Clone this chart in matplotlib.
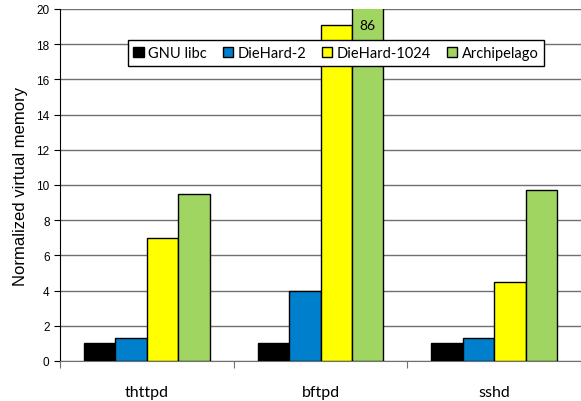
import numpy as np
import matplotlib.pyplot as plt

# data
apps = ["thttpd", "bftpd", "sshd"]
series = ["GNU libc", "DieHard-2", "DieHard-1024", "Archipelago"]
gnu_libc = [1.0, 1.0, 1.0]
diehard_2 = [1.3, 4.0, 1.3]
diehard_1024 = [7.0, 19.1, 4.5]
archipelago = [9.5, 86.0, 9.7]
colors = ["#000000", "#0080cc", "#ffff00", "#a0d562"]

values = [gnu_libc, diehard_2, diehard_1024, archipelago]

fig = plt.figure(figsize=(5.81, 4.02), dpi=100)
ax = fig.add_axes([60 / 581, 40 / 402, 521 / 581, 352 / 402])

x = np.arange(len(apps))
w = 0.181
for i, (name, vals) in enumerate(zip(series, values)):
    pos = x + (i - 1.5) * w
    ax.bar(pos, vals, width=w, color=colors[i], edgecolor="black",
           linewidth=1.0, label=name, zorder=3)

# clipped bar label
ax.text(x[1] + 1.5 * w, 19.1, "86", ha="center", va="center",
        fontsize=10, family="Lato", zorder=4)

ax.set_ylim(0, 20)
ax.set_xlim(-0.5, 2.5)
ax.set_yticks(np.arange(0, 21, 2))
ax.tick_params(axis="y", labelsize=8.5, length=4, direction="out")
for lab in ax.get_yticklabels():
    lab.set_family("Liberation Sans")
ax.yaxis.grid(True, color="#707070", linewidth=1.0, zorder=0)

ax.set_xticks([-0.5, 0.5, 1.5, 2.5])
ax.set_xticklabels([])
ax.set_xticks(x, minor=True)
ax.set_xticklabels(apps, minor=True, fontsize=11.5, family="Lato")
ax.tick_params(axis="x", which="major", length=5, direction="out", color="#707070")
ax.tick_params(axis="x", which="minor", length=0, pad=17)

for s in ["top", "right"]:
    ax.spines[s].set_visible(False)
ax.spines["bottom"].set_color("#707070")
ax.spines["left"].set_color("black")

ax.set_ylabel("Normalized virtual memory", fontsize=12,
              family="Liberation Sans", labelpad=6)

leg = ax.legend(loc="center", bbox_to_anchor=((336 - 60) / 521, (402 - 54 - 40) / 352),
                ncol=4, frameon=True, fancybox=False, edgecolor="black",
                framealpha=1, prop={"family": "Lato", "size": 10.5},
                handlelength=0.7, handleheight=0.7, handletextpad=0.3,
                columnspacing=1.1, borderpad=0.4)
leg.get_frame().set_linewidth(1.0)
leg.set_zorder(5)

fig.savefig("out.png", dpi=100)
